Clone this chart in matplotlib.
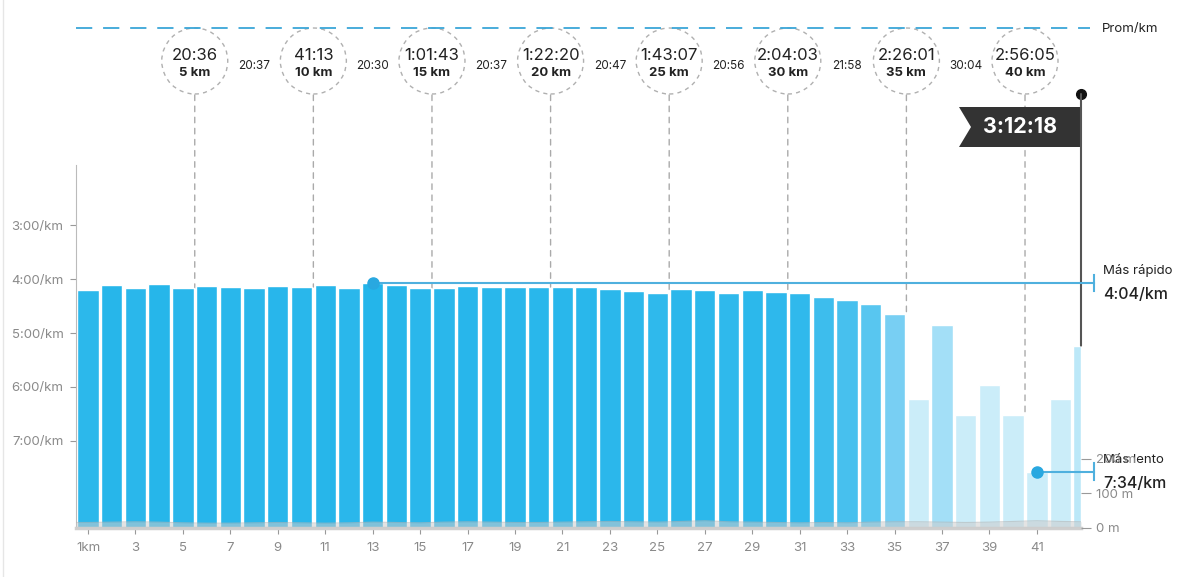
import numpy as np
import matplotlib
matplotlib.use('Agg')
from matplotlib import pyplot as plt
from matplotlib import transforms
from matplotlib.patches import Circle, Polygon
from matplotlib.lines import Line2D
from matplotlib.colors import LinearSegmentedColormap, Normalize

plt.rcParams['font.family'] = ['Inter', 'DejaVu Sans']

# pace per km, seconds (last entry is the final 0.195 km)
km_pos = [1, 2, 3, 4, 5, 6, 7, 8, 9, 10, 11, 12, 13, 14, 15, 16, 17, 18, 19, 20, 21,
          22, 23, 24, 25, 26, 27, 28, 29, 30, 31, 32, 33, 34, 35, 36, 37, 38, 39, 40,
          41, 42, 42.7]
bar_width = [0.9] * 42 + [0.33]
pace = [252, 247, 250, 246, 250, 248, 249, 250, 248, 249, 247, 250, 244, 247, 250,
        250, 248, 249, 249, 249, 249, 249, 251, 253, 255, 251, 252, 255, 252, 254,
        256, 260, 263, 268, 279, 373, 291, 391, 358, 391, 454, 373, 314]
elevation = [16, 17, 18, 17, 15, 14, 14, 15, 16, 15, 14, 15, 17, 16, 15, 17, 18, 17,
             16, 16, 17, 18, 19, 18, 17, 19, 21, 18, 17, 16, 15, 16, 15, 17, 18, 18,
             17, 16, 17, 19, 21, 19, 18]

split_km = [5, 10, 15, 20, 25, 30, 35, 40]
split_total = ['20:36', '41:13', '1:01:43', '1:22:20', '1:43:07', '2:04:03', '2:26:01', '2:56:05']
split_time = ['20:37', '20:30', '20:37', '20:47', '20:56', '21:58', '30:04']
total_time = '3:12:18'

xticks = list(range(1, 42, 2))
xlabels = ['1km'] + [str(k) for k in xticks[1:]]
yticks = [180, 240, 300, 360, 420]
ylabels = ['3:00/km', '4:00/km', '5:00/km', '6:00/km', '7:00/km']


def fmt(sec):
    return '%d:%02d/km' % (sec // 60, sec % 60)


W, H = 1200, 577
fig = plt.figure(figsize=(W / 100, H / 100), dpi=100)
ax = fig.add_axes([76 / W, 1 - 528 / H, (1081 - 76) / W, (528 - 165) / H])

y_bottom, y_top = 516.7, 113.3
x_left, x_right = 0.494, 42.86
ax.set_xlim(x_left, x_right)
ax.set_ylim(y_bottom, y_top)

cmap = LinearSegmentedColormap.from_list('pace', [
    (0.0, '#24b5ea'), (0.14, '#30b9ec'), (0.28, '#58c6f0'),
    (0.42, '#7bd0f3'), (0.56, '#a8e1f7'), (1.0, '#cbedf9')])
norm = Normalize(244, 330, clip=True)
colors = [cmap(norm(p)) for p in pace]

pace_arr = np.array(pace)
ax.bar(km_pos, pace_arr - y_bottom, bottom=y_bottom, width=bar_width,
       color=colors, edgecolor='white', linewidth=1.0, zorder=2)

for s in ['top', 'right']:
    ax.spines[s].set_visible(False)
ax.spines['left'].set_color('#bbbbbb')
ax.spines['bottom'].set_color('#cfcfcf')
ax.spines['bottom'].set_linewidth(2.5)
ax.set_xticks(xticks)
ax.set_xticklabels(xlabels)
ax.set_yticks(yticks)
ax.set_yticklabels(ylabels)
ax.tick_params(axis='both', colors='#999999', labelcolor='#8a8a8a', labelsize=9.5,
               length=4, width=0.8)
ax.tick_params(axis='x', pad=6)
ax.tick_params(axis='y', pad=5)

# elevation profile
ax2 = ax.twinx()
ax2.set_ylim(0, 1052)
ax2.fill_between([0.494] + km_pos[:-1] + [x_right], [elevation[0]] + elevation,
                 color='#cccccc', alpha=0.55, linewidth=0, zorder=3)
ax2.plot([0.494] + km_pos[:-1] + [x_right], [elevation[0]] + elevation,
         color='#b5b5b5', lw=0.8, alpha=0.6)
ax2.set_yticks([0, 100, 200])
ax2.set_yticklabels(['0 m', '100 m', '200 m'])
for s in ['top', 'right', 'left', 'bottom']:
    ax2.spines[s].set_visible(False)
ax2.tick_params(axis='y', colors='#999999', labelcolor='#8a8a8a', labelsize=9.5,
                length=7, width=0.8, pad=4)

blend = transforms.blended_transform_factory(ax.transData, fig.transFigure)


def fy(px):
    return 1 - px / H


# average pace dashed line
ax.plot([x_left, 43.25], [fy(28), fy(28)], transform=blend, clip_on=False,
        color='#3aa6d8', lw=1.3, dashes=(9, 6))
ax.text(43.75, fy(29), 'Prom/km', transform=blend, va='center', ha='left',
        fontsize=9.5, color='#222222')

# split circles
for i, k in enumerate(split_km):
    xc = k + 0.5
    off = fig.dpi_scale_trans + transforms.ScaledTranslation(xc, fy(61), blend)
    ax.add_artist(Circle((0, 0), 0.33, transform=off, fill=False, ec='#b0b0b0',
                         lw=1.0, ls=(0, (3, 3)), clip_on=False))
    ax.text(xc, fy(55), split_total[i], transform=blend, ha='center', va='center',
            fontsize=12, color='#222222')
    ax.text(xc, fy(73), '%d km' % k, transform=blend, ha='center', va='center',
            fontsize=9.5, fontweight='bold', color='#222222')
    ax.annotate('', xy=(xc, pace[k - 1]), xycoords='data',
                xytext=(xc, fy(95)), textcoords=blend,
                arrowprops=dict(arrowstyle='-', linestyle=(0, (4, 4)), color='#aaaaaa',
                                lw=1.0, shrinkA=0, shrinkB=0), zorder=1)
for i, t in enumerate(split_time):
    ax.text(split_km[i] + 3, fy(66), t, transform=blend, ha='center', va='center',
            fontsize=8.5, color='#222222')

# finish flag
ax.annotate('', xy=(x_right, pace[-1]), xycoords='data',
            xytext=(x_right, fy(94)), textcoords=blend,
            arrowprops=dict(arrowstyle='-', color='#555555', lw=1.5, shrinkA=0, shrinkB=0))
ax.plot([x_right], [fy(94)], 'o', color='#111111', ms=7, transform=blend, clip_on=False)
flag_off = fig.dpi_scale_trans + transforms.ScaledTranslation(x_right, fy(127), blend)
ax.add_artist(Polygon([(0, 0.2), (-1.22, 0.2), (-1.10, 0), (-1.22, -0.2), (0, -0.2)],
                      closed=True, transform=flag_off, fc='#333333', ec='none',
                      clip_on=False))
ax.text(x_right - 61 / 23.72, fy(127), total_time, transform=blend, ha='center',
        va='center', fontsize=15.5, fontweight='bold', color='white')

# fastest / slowest markers
i_fast = int(np.argmin(pace))
i_slow = int(np.argmax(pace))
x_end = 43.41
for idx, name in [(i_fast, 'Más rápido'), (i_slow, 'Más lento')]:
    p = pace[idx]
    ax.plot([km_pos[idx], x_end], [p, p], color='#4fb0de', lw=1.5, clip_on=False, zorder=4)
    ax.plot([km_pos[idx]], [p], 'o', color='#29a8e0', ms=8, clip_on=False, zorder=5)
    ax.plot([x_end, x_end], [p - 9, p + 9], color='#4fb0de', lw=1.5, clip_on=False)
    ax.annotate(name, xy=(43.8, p), xytext=(0, 4), textcoords='offset points',
                ha='left', va='bottom', fontsize=9.5, color='#222222', annotation_clip=False)
    ax.annotate(fmt(p), xy=(43.8, p), xytext=(0, -3), textcoords='offset points',
                ha='left', va='top', fontsize=11.5, fontweight='medium', color='#222222',
                annotation_clip=False)

fig.add_artist(Line2D([3 / W, 3 / W], [0, 1], color='#e6e6e6', lw=1))

fig.savefig('out.png', dpi=100)
